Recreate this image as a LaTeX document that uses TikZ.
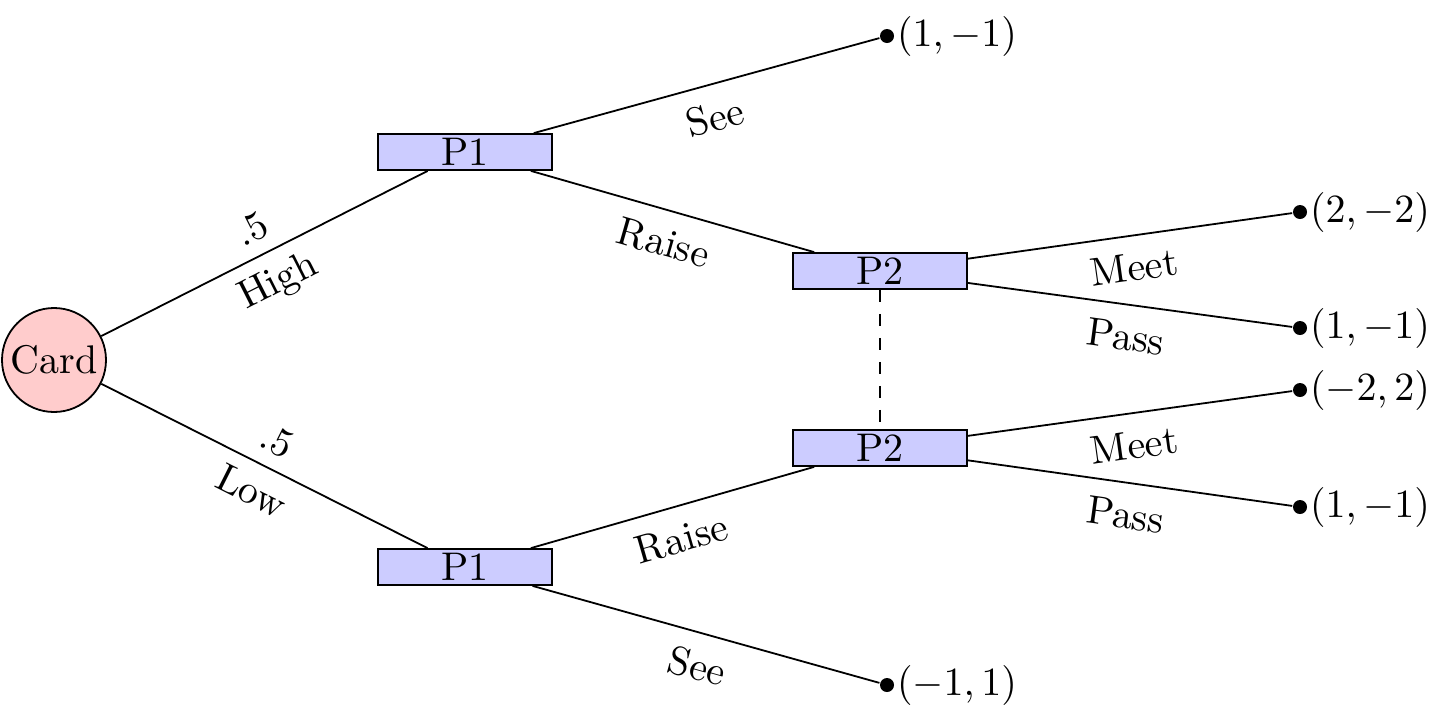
\documentclass[tikz,border=0pt]{standalone}
\begin{document}
\begin{tikzpicture}[x=0.25pt,y=0.25pt,line width=0.45pt,
  chance/.style={circle,draw,fill=red!20,minimum size=26pt,inner sep=0pt},
  player/.style={rectangle,draw,fill=blue!20,minimum width=43.5pt,minimum height=9pt,inner sep=0pt},
  leaf/.style={circle,fill,inner sep=0pt,minimum size=3.5pt},
  payoff/.style={inner sep=0pt,label distance=0.3pt},
  probab/.style={midway,sloped,above},
  probbe/.style={midway,sloped,below},
  act/.style={midway,sloped,below,inner sep=4.3pt}]
\useasboundingbox (-54,-359) rectangle (1392,360);
\node[chance] (card) at (0,0) {Card};
\node[player] (p1a) at (411,208) {P1};
\node[player] (p1b) at (411,-207) {P1};
\node[player] (p2a) at (826,89) {P2};
\node[player] (p2b) at (826,-88) {P2};
\node[leaf,label={[payoff]right:$(1,-1)$}] (l1) at (833,324) {};
\node[leaf,label={[payoff]right:$(2,-2)$}] (l2) at (1246,148) {};
\node[leaf,label={[payoff]right:$(1,-1)$}] (l3) at (1246,32) {};
\node[leaf,label={[payoff]right:$(-2,2)$}] (l4) at (1246,-30) {};
\node[leaf,label={[payoff]right:$(1,-1)$}] (l5) at (1246,-147) {};
\node[leaf,label={[payoff]right:$(-1,1)$}] (l6) at (833,-325) {};
\draw (card) -- node[probab]{.5} node[probbe]{High} (p1a);
\draw (card) -- node[probab]{.5} node[probbe]{Low} (p1b);
\draw (p1a) -- node[act]{See} (l1);
\draw (p1a) -- node[act]{Raise} (p2a);
\draw (p1b) -- node[act]{Raise} (p2b);
\draw (p1b) -- node[act]{See} (l6);
\draw (p2a) -- node[act]{Meet} (l2);
\draw (p2a) -- node[act]{Pass} (l3);
\draw (p2b) -- node[act]{Meet} (l4);
\draw (p2b) -- node[act]{Pass} (l5);
\draw[dashed] (p2a) -- (p2b);
\end{tikzpicture}
\end{document}
